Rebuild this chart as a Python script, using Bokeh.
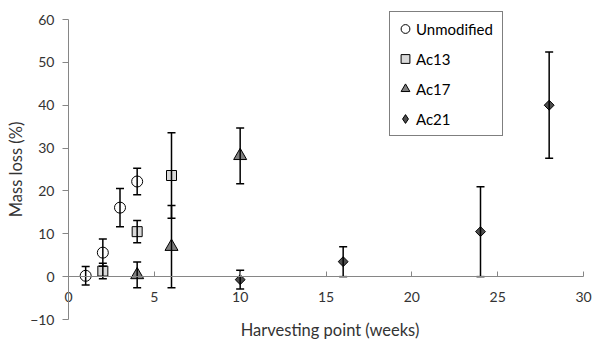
import math
from bokeh.plotting import figure
from bokeh.models import (ColumnDataSource, Whisker, TeeHead, Legend, LegendItem,
                          Label, FixedTicker, Range1d)
from bokeh.embed import file_html
from bokeh.resources import INLINE

# ---- data ----
unmod_x = [1, 2, 3, 4]
unmod_y = [0.2, 5.6, 16.1, 22.2]
unmod_err = [2.15, 3.2, 4.45, 3.1]

ac13_x = [2, 4, 6]
ac13_y = [1.3, 10.5, 23.6]
ac13_err = [1.8, 2.6, 10.0]

ac17_x = [4, 6, 10]
ac17_y = [0.4, 7.0, 28.2]
ac17_err = [3.0, 9.6, 6.5]

ac21_x = [10, 16, 24, 28]
ac21_y = [-0.7, 3.5, 10.5, 40.0]
ac21_err = [2.2, 3.5, 10.5, 12.4]

x_ticks = [0, 5, 10, 15, 20, 25, 30]
y_ticks = [-10, 0, 10, 20, 30, 40, 50, 60]

FONT = "Lato"
AXIS_GRAY = "#868686"
TEXT = "#333333"

# axis extents
X0, X1 = 0, 30
Y0, Y1 = -10, 60

# canvas geometry (pixels): the data box occupies px 68..583 horizontally, 19..319 vertically
W, H = 592, 340
L, R, T, B = 68, 9, 19, 21
xs_per_px = (X1 - X0) / (W - L - R)
ys_per_px = (Y1 - Y0) / (H - T - B)

p = figure(width=W, height=H, output_backend="svg", toolbar_location=None,
           x_range=Range1d(X0 - L * xs_per_px, X1 + R * xs_per_px),
           y_range=Range1d(Y0 - B * ys_per_px, Y1 + T * ys_per_px),
           min_border=0, min_border_left=0, min_border_right=0,
           min_border_top=0, min_border_bottom=0)
p.outline_line_color = None
p.xgrid.visible = False
p.ygrid.visible = False
p.background_fill_color = "white"
p.border_fill_color = "white"

# axes: placed at fixed locations inside the canvas
p.xaxis.fixed_location = 0
p.yaxis.fixed_location = 0
p.xaxis.bounds = (X0, X1)
p.yaxis.bounds = (Y0, Y1)
p.xaxis.ticker = FixedTicker(ticks=x_ticks)
p.yaxis.ticker = FixedTicker(ticks=y_ticks)
for ax in (p.xaxis, p.yaxis):
    ax.axis_line_color = AXIS_GRAY
    ax.major_tick_line_color = AXIS_GRAY
    ax.minor_tick_line_color = None
    ax.major_label_text_font = FONT
    ax.major_label_text_font_size = "14px"
    ax.major_label_text_color = TEXT
p.xaxis.major_tick_in = 5
p.xaxis.major_tick_out = 0
p.xaxis.major_label_standoff = 15
p.yaxis.major_tick_in = 0
p.yaxis.major_tick_out = 6
p.yaxis.major_label_standoff = 8
p.yaxis.axis_label = "Mass loss (%)"
p.yaxis.axis_label_text_font = FONT
p.yaxis.axis_label_text_font_size = "16.5px"
p.yaxis.axis_label_text_font_style = "normal"
p.yaxis.axis_label_text_color = TEXT
p.yaxis.axis_label_standoff = 1

xlab = Label(x=(X0 + X1) / 2, y=Y0, x_offset=4, y_offset=-10,
             text="Harvesting point (weeks)", text_font=FONT, text_font_size="16.5px",
             text_color=TEXT, text_align="center", text_baseline="middle")
p.add_layout(xlab)

NAN = float("nan")

# name, xs, ys, errors, marker, fill, size, angle, legend marker
series = [
    ("Unmodified", unmod_x, unmod_y, unmod_err, "circle", "white", 11, 0, "circle"),
    ("Ac13", ac13_x, ac13_y, ac13_err, "square", "#D9D9D9", 10, 0, "square"),
    ("Ac17", ac17_x, ac17_y, ac17_err, "triangle", "#7F7F7F", 13, 0, "triangle"),
    ("Ac21", ac21_x, ac21_y, ac21_err, "square", "#4D4D4D", 7, math.pi / 4, "diamond"),
]

items = []
for name, xs, ys, es, marker, fill, size, angle, lmarker in series:
    src = ColumnDataSource(dict(x=xs, y=ys,
                                upper=[y + e for y, e in zip(ys, es)],
                                lower=[y - e for y, e in zip(ys, es)]))
    w = Whisker(base="x", upper="upper", lower="lower", source=src,
                line_color="black", line_width=1.5, level="glyph",
                upper_head=TeeHead(size=8, line_color="black", line_width=1.5),
                lower_head=TeeHead(size=8, line_color="black", line_width=1.5))
    p.add_layout(w)
    r = p.scatter("x", "y", source=src, marker=marker, size=size, angle=angle,
                  fill_color=fill, line_color="black", line_width=1)
    if lmarker != marker:
        # legend-only proxy renderer (its single point is NaN, so nothing is plotted)
        r = p.scatter(x=[NAN], y=[NAN], marker=lmarker, size=size,
                      fill_color=fill, line_color="black", line_width=1)
    items.append(LegendItem(label=name, renderers=[r]))

legend = Legend(items=items, location=(389, 204), border_line_color="black",
                border_line_width=1, background_fill_color="white", background_fill_alpha=1,
                label_text_font=FONT, label_text_font_size="15px", label_text_color="black",
                glyph_width=22, glyph_height=25, label_height=25, spacing=5, padding=4,
                label_standoff=0, label_width=82, margin=0)
p.add_layout(legend, "center")

open("out.html", "w").write(file_html(p, INLINE))
